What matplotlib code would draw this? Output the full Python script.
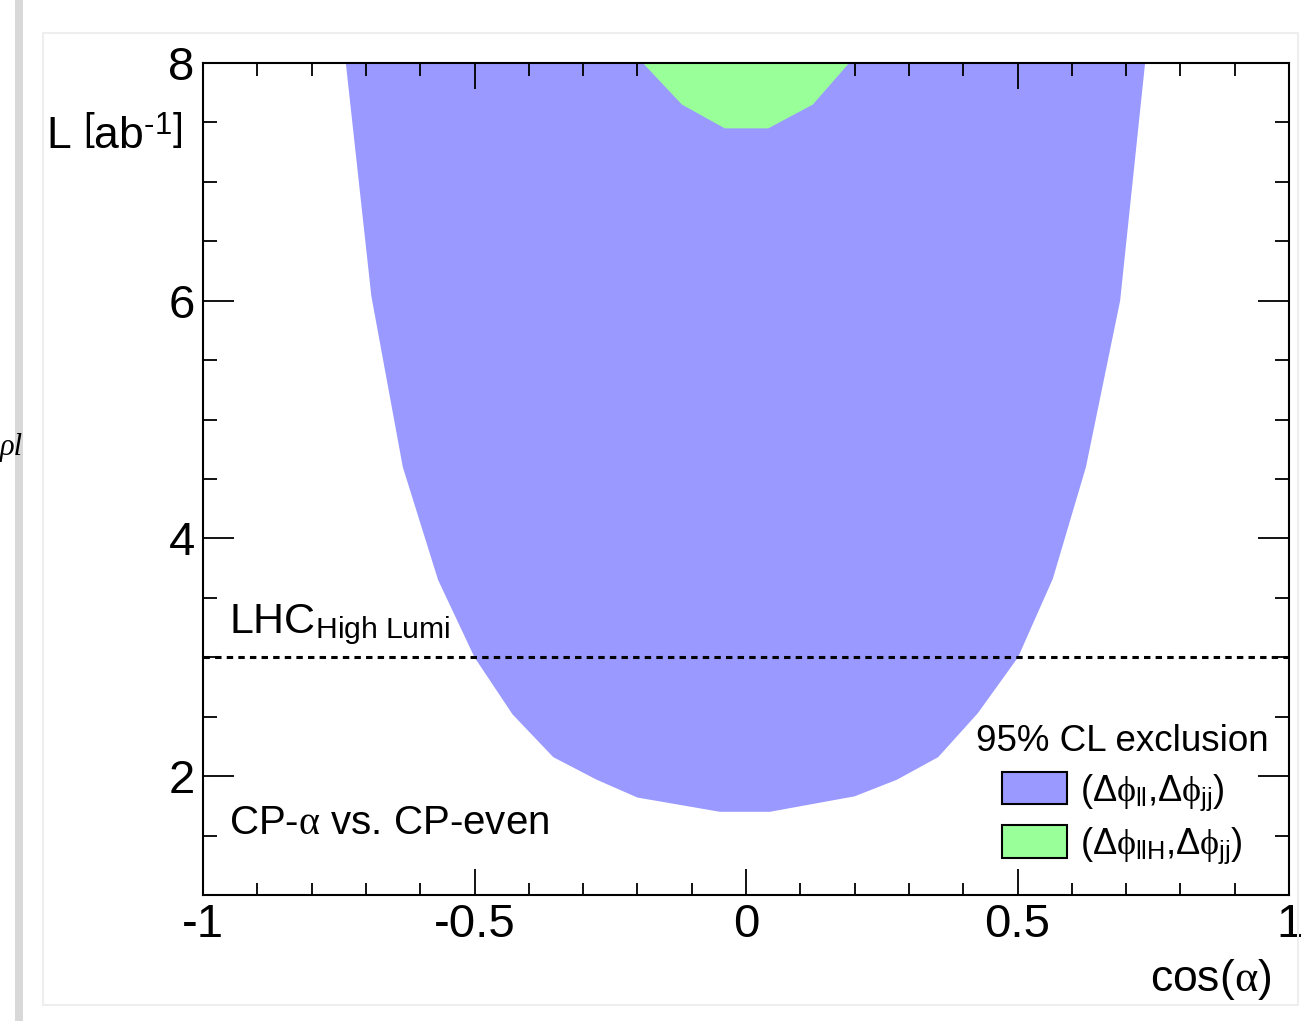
import matplotlib
matplotlib.use("Agg")
import matplotlib.pyplot as plt
from matplotlib.patches import Patch, Rectangle
from matplotlib.ticker import MultipleLocator

plt.rcParams['font.family'] = ['Liberation Sans', 'DejaVu Sans']
plt.rcParams['mathtext.fontset'] = 'custom'
plt.rcParams['mathtext.rm'] = 'Liberation Sans'
plt.rcParams['mathtext.it'] = 'Liberation Serif'
plt.rcParams['mathtext.bf'] = 'Liberation Sans:bold'

# 95% CL exclusion contour, (dphi_ll, dphi_jj)
blue_x = [-0.737, -0.690, -0.632, -0.567, -0.500, -0.430, -0.355, -0.275, -0.200, -0.048,
          0.044, 0.200, 0.278, 0.354, 0.427, 0.501, 0.565, 0.626, 0.689, 0.735]
blue_y = [8.0, 6.04, 4.60, 3.65, 3.0, 2.52, 2.16, 1.97, 1.82, 1.70,
          1.70, 1.83, 1.97, 2.16, 2.53, 3.0, 3.66, 4.60, 6.0, 8.0]

# 95% CL exclusion contour, (dphi_llH, dphi_jj)
green_x = [-0.190, -0.118, -0.039, 0.041, 0.123, 0.190]
green_y = [8.0, 7.65, 7.45, 7.45, 7.65, 8.0]

lumi_hl = 3.0  # ab^-1

blue = '#9999ff'
green = '#99ff99'

fig = plt.figure(figsize=(13.05, 10.21), dpi=100)

# screenshot frame remnants
fig.patches.append(Rectangle((15/1305, 0), 8/1305, 1, transform=fig.transFigure,
                             facecolor='#d8d8d8', edgecolor='none', zorder=0))
fig.patches.append(Rectangle((43/1305, 1 - 1005/1021), 1255/1305, 972/1021,
                             transform=fig.transFigure, facecolor='none',
                             edgecolor='#eeeeee', lw=1.5, zorder=0))
fig.text(0.0, 1 - 448/1021, 'ρl', ha='left', va='center',
         fontsize=22, family='Liberation Serif', style='italic')

ax = fig.add_axes([203/1305, 1 - 895/1021, 1086/1305, 832/1021])
ax.patch.set_alpha(0)

ax.fill(blue_x, blue_y, color=blue, lw=0, zorder=1)
ax.fill(green_x, green_y, color=green, lw=0, zorder=2)
ax.axhline(lumi_hl, color='black', lw=2.2, dashes=(2.1, 1.7), zorder=3)

ax.set_xlim(-1, 1)
ax.set_ylim(1, 8)
ax.xaxis.set_minor_locator(MultipleLocator(0.1))
ax.yaxis.set_minor_locator(MultipleLocator(0.5))
ax.set_xticks([-1, -0.5, 0, 0.5, 1])
ax.set_xticklabels(['-1', '-0.5', '0', '0.5', '1'])
ax.set_yticks([2, 4, 6, 8])
ax.set_yticklabels(['2', '4', '6', '8'])

for s in ax.spines.values():
    s.set_linewidth(1.5)
    s.set_zorder(5)
ax.tick_params(which='both', direction='in', top=True, right=True, width=1.3,
               labelsize=34)
ax.tick_params(axis='x', which='major', length=19, pad=6)
ax.tick_params(axis='x', which='minor', length=9)
ax.tick_params(axis='y', which='major', length=22, pad=6)
ax.tick_params(axis='y', which='minor', length=10)

ax.text(-0.019, 0.912, r'L $\left[\mathrm{ab}^{\text{-}1}\right]$', transform=ax.transAxes,
        ha='right', va='center', fontsize=32)
ax.text(0.984, -0.102, r'cos($\alpha$)', transform=ax.transAxes,
        ha='right', va='center', fontsize=32)
ax.text(-0.952, lumi_hl + 0.2, r'LHC$_{\mathrm{High\ Lumi}}$', ha='left',
        va='baseline', fontsize=31)
ax.text(0.024, 0.0865, r'CP-$\alpha$ vs. CP-even', transform=ax.transAxes,
        ha='left', va='center', fontsize=29)

handles = [Patch(facecolor=blue, edgecolor='black', lw=1.5),
           Patch(facecolor=green, edgecolor='black', lw=1.5)]
labels = [r'$(\Delta\phi_{\mathrm{ll}}$,$\Delta\phi_{\mathrm{jj}})$',
          r'$(\Delta\phi_{\mathrm{llH}}$,$\Delta\phi_{\mathrm{jj}})$']
leg = ax.legend(handles, labels, title='95% CL exclusion', loc='upper right',
                bbox_to_anchor=(0.981, 0.205), frameon=False, fontsize=26,
                title_fontsize=26.5, handlelength=1.8, handleheight=1.0,
                labelspacing=0.35, handletextpad=0.35, borderpad=0,
                borderaxespad=0, alignment='center')

fig.savefig('out.png', dpi=100)
